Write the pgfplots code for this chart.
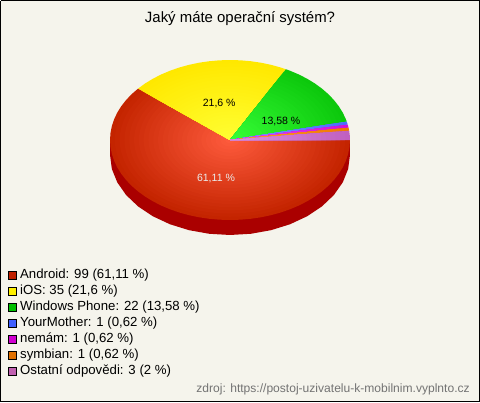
\documentclass[border=0pt]{standalone}
\usepackage{pgfplots}
\usepackage{pgfplotstable}
\usepackage{fontspec}
\setmainfont{Liberation Sans}
\pgfplotsset{compat=1.18}
\definecolor{bgc}{HTML}{F5F4EC}
\definecolor{side}{HTML}{AA0000}
\definecolor{cAnd}{HTML}{C42400}\definecolor{hAnd}{HTML}{FF5C3E}
\definecolor{cIos}{HTML}{FFE800}\definecolor{hIos}{HTML}{FFFF33}
\definecolor{cWin}{HTML}{0CC80C}\definecolor{hWin}{HTML}{38FF38}
\definecolor{cYou}{HTML}{4A6CFF}\definecolor{hYou}{HTML}{8A9CFF}
\definecolor{cNem}{HTML}{D010D8}\definecolor{hNem}{HTML}{F050F8}
\definecolor{cSym}{HTML}{F07800}\definecolor{hSym}{HTML}{FFA040}
\definecolor{cOst}{HTML}{C060C0}\definecolor{hOst}{HTML}{E090E0}
\definecolor{lAnd}{HTML}{C02000}\definecolor{lIos}{HTML}{FFF000}\definecolor{lWin}{HTML}{00C000}
\definecolor{lYou}{HTML}{4060FF}\definecolor{lNem}{HTML}{D000D0}\definecolor{lSym}{HTML}{E07000}\definecolor{lOst}{HTML}{C060B0}
% Android 99, iOS 35, Windows Phone 22, YourMother 1, nemam 1, symbian 1, other 3 (of 162)
\pgfplotstableread{
a r
0 0
140 1
145 1
150 1
155 1
160 1
165 1
170 1
175 1
180 1
185 1
190 1
195 1
200 1
205 1
210 1
215 1
220 1
225 1
230 1
235 1
240 1
245 1
250 1
255 1
260 1
265 1
270 1
275 1
280 1
285 1
290 1
295 1
300 1
305 1
310 1
315 1
320 1
325 1
330 1
335 1
340 1
345 1
350 1
355 1
360 1
}\tabAnd
\pgfplotstableread{
a r
0 0
62.22 1
65 1
70 1
75 1
80 1
85 1
90 1
95 1
100 1
105 1
110 1
115 1
120 1
125 1
130 1
135 1
140 1
}\tabIos
\pgfplotstableread{
a r
0 0
13.33 1
15 1
20 1
25 1
30 1
35 1
40 1
45 1
50 1
55 1
60 1
62.22 1
}\tabWin
\pgfplotstableread{
a r
0 0
11.11 1
13.33 1
}\tabYou
\pgfplotstableread{
a r
0 0
8.89 1
11.11 1
}\tabNem
\pgfplotstableread{
a r
0 0
6.67 1
8.89 1
}\tabSym
\pgfplotstableread{
a r
0 0
0 1
2 1
4 1
6.67 1
}\tabOst
\newcommand\pieslice[3]{%
  \pgfplotsinvokeforeach{0,4,8,12,16,20,24,28,32,36,40,44,48,52,56,60,64,68,72,76,80,84,88,92,96}{%
    \addplot[data cs=polar,draw=none,fill={#3!##1!#2},no markers,forget plot]
      table[x=a,y expr=\thisrow{r}*(1-##1/100)] {#1};
  }%
}
\pgfplotstableread{
a r
0 1
10 1
20 1
30 1
40 1
50 1
60 1
70 1
80 1
90 1
100 1
110 1
120 1
130 1
140 1
150 1
160 1
170 1
180 1
190 1
200 1
210 1
220 1
230 1
240 1
250 1
260 1
270 1
280 1
290 1
300 1
310 1
320 1
330 1
340 1
350 1
}\tabFull
\begin{document}
\begin{tikzpicture}[x=1pt,y=1pt]
\begin{axis}[
  name=base,at={(0,0)},anchor=south west,
  scale only axis,width=360pt,height=301.5pt,hide axis,clip=false,
  xmin=0,xmax=480,ymin=0,ymax=402,y dir=reverse,
  legend image code/.code={\draw[#1,draw=black,line width=0.6pt] (0pt,-3pt) rectangle (6pt,3pt);},
  legend cell align=left,
  legend style={at={(axis cs:8,267)},anchor=north west,draw=none,fill=none,inner sep=0pt,outer sep=0pt,
    font=\fontsize{9.9pt}{12pt}\selectfont,
    row sep=0pt,column sep=1.5pt,
    nodes={text height=9pt,text depth=3pt,inner ysep=0pt,inner xsep=1pt}},
]
\addplot[fill=bgc,draw=black,line width=1.1pt,no markers,forget plot] coordinates {(0.7,0.7)(479.3,0.7)(479.3,401.3)(0.7,401.3)(0.7,0.7)};
\addlegendimage{fill=lAnd}\addlegendentry{Android: 99 (61,11 \%)}
\addlegendimage{fill=lIos}\addlegendentry{iOS: 35 (21,6 \%)}
\addlegendimage{fill=lWin}\addlegendentry{Windows Phone: 22 (13,58 \%)}
\addlegendimage{fill=lYou}\addlegendentry{YourMother: 1 (0,62 \%)}
\addlegendimage{fill=lNem}\addlegendentry{nemám: 1 (0,62 \%)}
\addlegendimage{fill=lSym}\addlegendentry{symbian: 1 (0,62 \%)}
\addlegendimage{fill=lOst}\addlegendentry{Ostatní odpovědi: 3 (2 \%)}
\node[font=\fontsize{11.2pt}{12pt}\selectfont,anchor=center] at (axis cs:240,19) {Jaký máte operační systém?};
\node[font=\fontsize{9.05pt}{12pt}\selectfont,text=black!55,anchor=base east,inner sep=0pt] at (axis cs:470,393) {zdroj: https://postoj-uzivatelu-k-mobilnim.vyplnto.cz};
\end{axis}
\begin{axis}[
  at={(0,0)},anchor=south west,
  scale only axis,width=360pt,height=301.5pt,hide axis,clip=false,
  xmin=-1.916667,xmax=2.083333,ymin=-3.275,ymax=1.75,
]
\addplot[fill=side,draw=none,no markers,forget plot] coordinates {(-1,0)(1,0)(1,-0.1875)(-1,-0.1875)(-1,0)};
\addplot[data cs=polar,fill=side,draw=none,no markers,forget plot,yshift=-11.25pt] table[x=a,y=r] {\tabFull};
\pieslice{\tabAnd}{cAnd}{hAnd}
\pieslice{\tabIos}{cIos}{hIos}
\pieslice{\tabWin}{cWin}{hWin}
\pieslice{\tabYou}{cYou}{hYou}
\pieslice{\tabNem}{cNem}{hNem}
\pieslice{\tabSym}{cSym}{hSym}
\pieslice{\tabOst}{cOst}{hOst}
\node[font=\fontsize{7.9pt}{10pt}\selectfont,text=white!92!black] at (axis cs:-0.117,-0.487) {61,11 \%};
\node[font=\fontsize{7.9pt}{10pt}\selectfont] at (axis cs:-0.09,0.46) {21,6 \%};
\node[font=\fontsize{7.9pt}{10pt}\selectfont] at (axis cs:0.425,0.23) {13,58 \%};
\end{axis}
\end{tikzpicture}
\end{document}
